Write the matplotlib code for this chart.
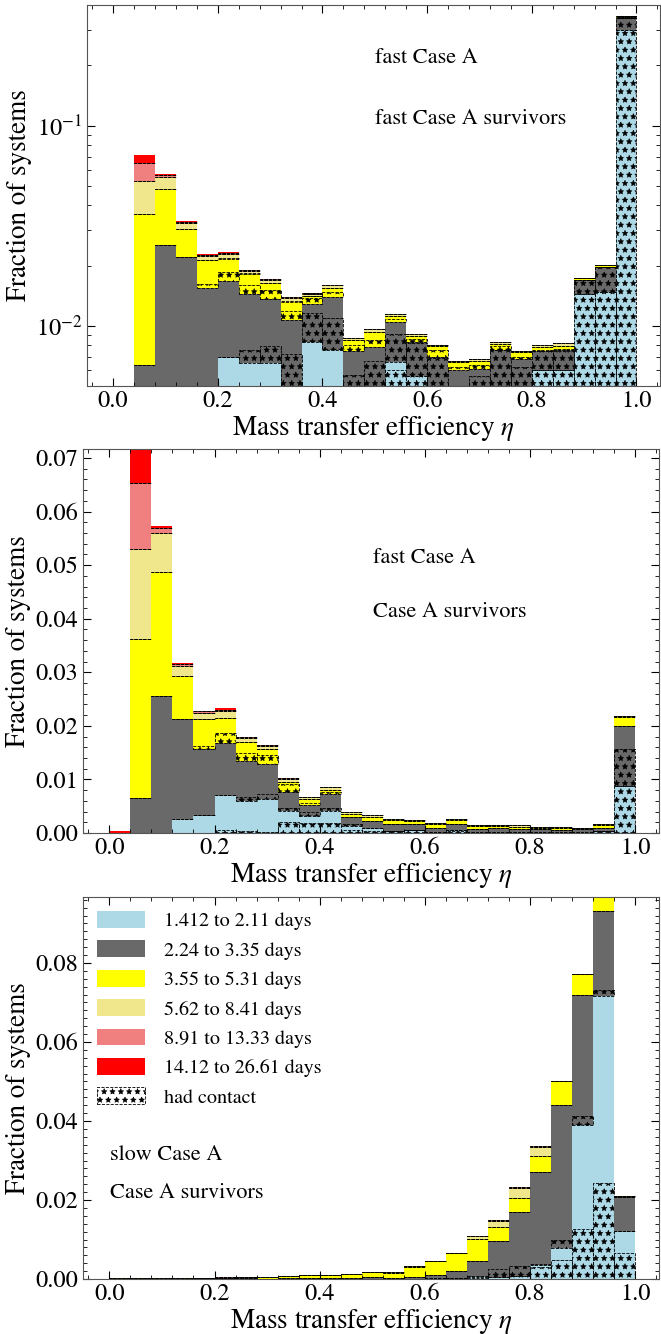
import numpy as np
import matplotlib
matplotlib.use("Agg")
from matplotlib import pyplot as plt
from matplotlib.patches import Patch
from matplotlib.ticker import MultipleLocator, LogLocator, NullFormatter

plt.rcParams['font.family'] = ['STIXGeneral', 'DejaVu Serif']
plt.rcParams['mathtext.fontset'] = 'stix'
plt.rcParams['hatch.linewidth'] = 0.4

# 25 bins in mass transfer efficiency, width 0.04
bin_edges = np.linspace(0.0, 1.0, 26)

period_labels = ['1.412 to 2.11 days', '2.24 to 3.35 days', '3.55 to 5.31 days',
                 '5.62 to 8.41 days', '8.91 to 13.33 days', '14.12 to 26.61 days']
period_colors = ['lightblue', 'dimgray', 'yellow', 'khaki', 'lightcoral', 'red']

# ---- top panel: fast Case A, fraction of fast Case A survivors ----
top_p1 = [0, 0, 0, .0026, .0034, .0070, .0065, .0065, .0041, .0083, .0076, .0020, .0020,
          .0066, .0056, .0020, .0015, .0015, .0020, .0020, .0060, .0060, .0144, .0147, .302]
top_p2 = [0, .0064, .0254, .0195, .0121, .0098, .0079, .0071, .0066, .0045, .0064, .0055, .00585,
          .0038, .0027, .00495, .0045, .0046, .0056, .0048, .0015, .00156, .0025, .0049, .043]
top_p3 = [0, .0298, .0228, .0083, .0058, .0048, .0037, .0027, .0025, .0013, .0015, .0010, .00145,
          .0008, .0006, .0010, .0006, .0006, .0005, .0006, .0003, .0004, .0004, .0005, .005]
top_p4 = [0, .0165, .0074, .0023, .0011, .0012, .0006, .0006, .0005, .0003, .0004, .0002, .0003,
          .0002, .0002, .0001, .0001, .0001, .0002, .0001, .0002, .0002, .0001, .0001, .001]
top_p5 = [0, .0123, .0010, .0003, .0003, .0004, .0002, .0002, .0002, .0001, .0001, 0, 0,
          0, 0, 0, 0, 0, 0, 0, 0, 0, 0, 0, 0]
top_p6 = [.0003, .0064, .0005, .0002, .0001, .0002, .0002, .0001, 0, 0, 0, 0, 0,
          0, 0, 0, 0, 0, 0, 0, 0, 0, 0, 0, 0]
top_c1 = [0, 0, 0, 0, 0, .0007, .0003, .0002, .0020, .0018, .0019, .0008, .0006,
          .0060, .0056, .0008, .0006, .0006, .0010, .0010, .0060, .0060, .0144, .0147, .302]
top_c2 = [0, 0, 0, 0, 0, 0, .0011, .0014, .0031, .0033, .0033, .0037, .0047,
          .0025, .0026, .0049, .0010, .0041, .0056, .0042, .0015, .0015, .0025, .0049, .043]
top_c3 = [0, 0, 0, 0, .0007, .0017, .0016, .0015, .0012, .0010, .0007, .0005, .0006,
          .0004, .0003, .0006, .0002, .0003, .0003, .0002, .0001, .0001, .0001, .0001, .001]
top_c4 = [0, 0, 0, 0, .0001, .0002, .0002, .0001, .0001, 0, 0, 0, 0,
          0, 0, 0, 0, 0, 0, 0, 0, 0, 0, 0, 0]

# ---- middle panel: fast Case A, fraction of Case A survivors ----
mid_p1 = [0, 0, 0, .0026, .0034, .0070, .0059, .0064, .0041, .0032, .0041, .0013, .0009,
          .0004, .0005, .0002, .0005, .0002, .0002, .0001, .0001, .0001, .0001, .0003, .0087]
mid_p2 = [0, .0065, .0256, .0187, .0122, .0097, .0075, .0064, .0036, .0020, .0031, .0017, .0013,
          .0013, .0012, .0008, .0012, .0006, .0007, .0006, .0007, .0004, .0006, .0007, .0113]
mid_p3 = [0, .0298, .0231, .0080, .0057, .0048, .0036, .0028, .0019, .0012, .0009, .0006, .0007,
          .0007, .0006, .0006, .0007, .0005, .0004, .0005, .0002, .0005, .0002, .0005, .0016]
mid_p4 = [0, .0167, .0073, .0019, .0011, .0012, .0007, .0007, .0005, .0003, .0004, .0003, .0004,
          .0002, .0002, .0002, .0002, .0002, .0002, .0002, .0001, .0001, .0001, .0001, .0002]
mid_p5 = [0, .0124, .0009, .0003, .0003, .0003, .0002, .0001, .0002, 0, 0, 0, 0,
          0, 0, 0, 0, 0, 0, 0, 0, 0, 0, 0, 0]
mid_p6 = [.0003, .0070, .0004, .0002, .0001, .0003, .0001, .0001, 0, 0, 0, 0, 0,
          0, 0, 0, 0, 0, 0, 0, 0, 0, 0, 0, 0]
mid_c1 = [0, 0, 0, 0, 0, .0006, .0003, .0002, .0021, .0018, .0019, .0005, .0004,
          .0003, .0005, 0, .0004, 0, 0, 0, 0, 0, 0, .0003, .0087]
mid_c2 = [0, 0, 0, 0, 0, 0, .0008, .0008, .0006, .0008, .0006, .0003, 0,
          0, 0, 0, 0, 0, 0, 0, 0, 0, 0, 0, .0069]
mid_c3 = [0, 0, 0, 0, .0007, .0020, .0016, .0017, .0015, .0004, .0004, 0, 0,
          0, 0, 0, 0, 0, 0, 0, 0, 0, 0, 0, 0]
mid_c4 = [0, 0, 0, 0, 0, 0, 0, 0, 0, 0, 0, 0, 0,
          0, 0, 0, 0, 0, 0, 0, 0, 0, 0, 0, 0]

# ---- bottom panel: slow Case A, fraction of Case A survivors ----
bot_p1 = [0, 0, 0, 0, 0, 0, 0, 0, 0, 0, 0, 0, 0,
          0, .0001, .0002, .0003, .0004, .0005, .0007, .0036, .0078, .0391, .0717, .0121]
bot_p2 = [.0001, .0001, .0001, .0001, .0002, .0002, .0003, .0001, .0003, .0002, .0003, .0003, .0004,
          .0003, .0004, .0009, .0018, .0042, .0092, .0163, .0235, .0363, .0327, .0214, .0086]
bot_p3 = [.0001, .0001, .0001, .0001, .0001, 0, .0001, .0004, .0005, .0008, .0007, .0010, .0014,
          .0013, .0026, .0034, .0044, .0056, .0035, .0035, .0041, .0060, .0053, .0050, .0002]
bot_p4 = [0, 0, 0, 0, 0, 0, 0, 0, 0, 0, 0, 0, .0001,
          .0001, .0001, .0001, .0002, .0006, .0016, .0026, .0023, .0001, .0001, 0, 0]
bot_p5 = [0, 0, 0, 0, 0, .0002, .0002, 0, 0, 0, 0, 0, 0,
          0, 0, 0, 0, 0, .0002, .0001, .0001, 0, 0, 0, 0]
bot_p6 = [0, 0, 0, 0, 0, 0, 0, 0, 0, 0, 0, 0, 0,
          0, 0, 0, 0, 0, 0, 0, 0, 0, 0, 0, 0]
bot_c1 = [0, 0, 0, 0, 0, 0, 0, 0, 0, 0, 0, 0, 0,
          0, 0, 0, .0002, .0003, .0004, .0007, .0030, .0049, .0127, .0243, .0067]
bot_c2 = [0, 0, 0, 0, 0, 0, 0, 0, 0, 0, 0, 0, 0,
          0, 0, 0, 0, .0004, .0020, .0025, .0003, .0021, .0021, .0015, 0]
bot_c3 = [0, 0, 0, 0, 0, 0, 0, 0, 0, 0, 0, 0, 0,
          0, 0, 0, 0, 0, 0, 0, 0, 0, 0, 0, 0]
bot_c4 = [0, 0, 0, 0, 0, 0, 0, 0, 0, 0, 0, 0, 0,
          0, 0, 0, 0, 0, 0, 0, 0, 0, 0, 0, 0]
no_contact = [0] * 25


def draw_panel(ax, groups, contacts):
    left = bin_edges[:-1]
    width = np.diff(bin_edges)
    bottom = np.zeros(len(left))
    for vals, con, color in zip(groups, contacts, period_colors):
        vals = np.asarray(vals, dtype=float)
        ax.bar(left, vals, width, bottom=bottom, align='edge', color=color,
               linewidth=0)
        ax.bar(left, con, width, bottom=bottom, align='edge', fill=False,
               hatch='**', edgecolor='k', linewidth=0.6, linestyle='--')
        bottom = bottom + vals


def style_axes(ax):
    ax.set_xlim(-0.05, 1.045)
    ax.xaxis.set_major_locator(MultipleLocator(0.2))
    ax.xaxis.set_minor_locator(MultipleLocator(0.04))
    ax.tick_params(which='both', direction='in', top=True, right=True,
                   labelsize=17.5)
    ax.tick_params(which='major', length=6, width=0.8)
    ax.tick_params(which='minor', length=3, width=0.6)
    ax.set_xlabel(r'Mass transfer efficiency $\eta$', fontsize=19.5, labelpad=1)
    ax.set_ylabel('Fraction of systems', fontsize=19.5, labelpad=3)
    for sp in ax.spines.values():
        sp.set_color('#555555')


fig = plt.figure(figsize=(6.61, 13.34), dpi=100)
ax_top = fig.add_axes([0.1316, 0.7106, 0.8669, 0.2856])
ax_mid = fig.add_axes([0.1256, 0.3756, 0.8714, 0.2879])
ax_bot = fig.add_axes([0.1256, 0.0412, 0.8714, 0.2864])

draw_panel(ax_top, [top_p1, top_p2, top_p3, top_p4, top_p5, top_p6],
           [top_c1, top_c2, top_c3, top_c4, no_contact, no_contact])
ax_top.set_yscale('log')
ax_top.set_ylim(0.005, 0.4)
ax_top.yaxis.set_major_locator(LogLocator(base=10))
ax_top.yaxis.set_minor_locator(LogLocator(base=10, subs=np.arange(2, 10)))
ax_top.yaxis.set_minor_formatter(NullFormatter())
style_axes(ax_top)
ax_top.text(0.503, 0.861, 'fast Case A', transform=ax_top.transAxes,
            fontsize=16, va='center')
ax_top.text(0.503, 0.701, 'fast Case A survivors', transform=ax_top.transAxes,
            fontsize=16, va='center')

draw_panel(ax_mid, [mid_p1, mid_p2, mid_p3, mid_p4, mid_p5, mid_p6],
           [mid_c1, mid_c2, mid_c3, mid_c4, no_contact, no_contact])
ax_mid.set_ylim(0, 0.0717)
ax_mid.yaxis.set_major_locator(MultipleLocator(0.01))
ax_mid.yaxis.set_minor_locator(MultipleLocator(0.002))
ax_mid.yaxis.set_major_formatter(plt.FormatStrFormatter('%.2f'))
style_axes(ax_mid)
ax_mid.text(0.503, 0.716, 'fast Case A', transform=ax_mid.transAxes,
            fontsize=16, va='center')
ax_mid.text(0.503, 0.576, 'Case A survivors', transform=ax_mid.transAxes,
            fontsize=16, va='center')

draw_panel(ax_bot, [bot_p1, bot_p2, bot_p3, bot_p4, bot_p5, bot_p6],
           [bot_c1, bot_c2, bot_c3, bot_c4, no_contact, no_contact])
ax_bot.set_ylim(0, 0.0967)
ax_bot.yaxis.set_major_locator(MultipleLocator(0.02))
ax_bot.yaxis.set_minor_locator(MultipleLocator(0.002))
ax_bot.yaxis.set_major_formatter(plt.FormatStrFormatter('%.2f'))
style_axes(ax_bot)
ax_bot.text(0.047, 0.325, 'slow Case A', transform=ax_bot.transAxes,
            fontsize=16, va='center')
ax_bot.text(0.047, 0.225, 'Case A survivors', transform=ax_bot.transAxes,
            fontsize=16, va='center')

handles = [Patch(facecolor=c, edgecolor='none', label=l)
           for c, l in zip(period_colors, period_labels)]
handles.append(Patch(facecolor='white', edgecolor='k', hatch='**',
                     linestyle='--', linewidth=0.6, label='had contact'))
ax_bot.legend(handles=handles, loc='upper left', bbox_to_anchor=(0.0, 1.0),
              frameon=False, fontsize=14.5, handlelength=2.4, handleheight=0.9,
              handletextpad=0.9, labelspacing=0.5, borderaxespad=0.3)

fig.savefig('out.png', dpi=100)
